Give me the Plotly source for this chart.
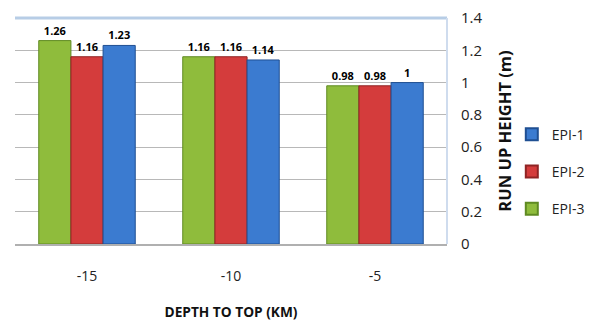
import plotly.graph_objects as go

categories = ["-15", "-10", "-5"]
epi1 = [1.23, 1.14, 1.0]
epi2 = [1.16, 1.16, 0.98]
epi3 = [1.26, 1.16, 0.98]
y_ticks = [0, 0.2, 0.4, 0.6, 0.8, 1, 1.2, 1.4]

series = [
    ("EPI-3", epi3, "#8fbc3c", "#5f8a22", 3),
    ("EPI-2", epi2, "#d43c3c", "#8f2424", 2),
    ("EPI-1", epi1, "#3b7bd0", "#1f4f92", 1),
]

fig = go.Figure()
for name, vals, col, edge, rank in series:
    fig.add_trace(go.Bar(
        x=categories, y=vals, name=name, legendgroup=name, legendrank=rank,
        marker=dict(color=col, line=dict(color=edge, width=1)),
        text=[f"{v:g}" for v in vals], textposition="outside",
        textfont=dict(family="Open Sans", size=11, color="black", weight="bold"),
        cliponaxis=False,
    ))

fig.update_layout(
    width=600, height=325,
    margin=dict(l=7, r=161, t=10, b=89, autoexpand=False),
    paper_bgcolor="white", plot_bgcolor="white",
    barmode="group", bargap=0.33, bargroupgap=0,
    font=dict(family="Open Sans", color="#222"),
    legend=dict(traceorder="grouped", x=1.15, y=0.32, xanchor="left", yanchor="middle",
                font=dict(size=14, color="#222"), itemwidth=30, tracegroupgap=16,
                itemsizing="constant"),
    xaxis=dict(showline=True, linecolor="#b0b0b0", linewidth=1.5, ticks="",
               automargin=False, ticklabelstandoff=18,
               tickfont=dict(size=14, color="#222"),
               title=dict(text="DEPTH TO TOP (KM)", standoff=24,
                          font=dict(size=13.7, color="#111", weight="bold"))),
    yaxis=dict(side="right", range=[0, 1.4], tickvals=y_ticks,
               ticktext=[f"{v:g}" for v in y_ticks], automargin=False,
               ticklabeloverflow="allow",
               showgrid=True, gridcolor="#b8b8b8", gridwidth=1, zeroline=False,
               tickfont=dict(size=15, color="#222"), ticklabelstandoff=13,
               title=dict(text="RUN UP HEIGHT (m)", standoff=17,
                          font=dict(size=16.5, color="#111", weight="bold"))),
    shapes=[
        dict(type="line", xref="paper", yref="paper", x0=0, x1=1, y0=1, y1=1,
             line=dict(color="#b7cde6", width=3)),
        dict(type="line", xref="paper", yref="paper", x0=1, x1=1, y0=0, y1=1,
             line=dict(color="#cfdcee", width=2)),
    ],
)

fig.write_html("out.html")
